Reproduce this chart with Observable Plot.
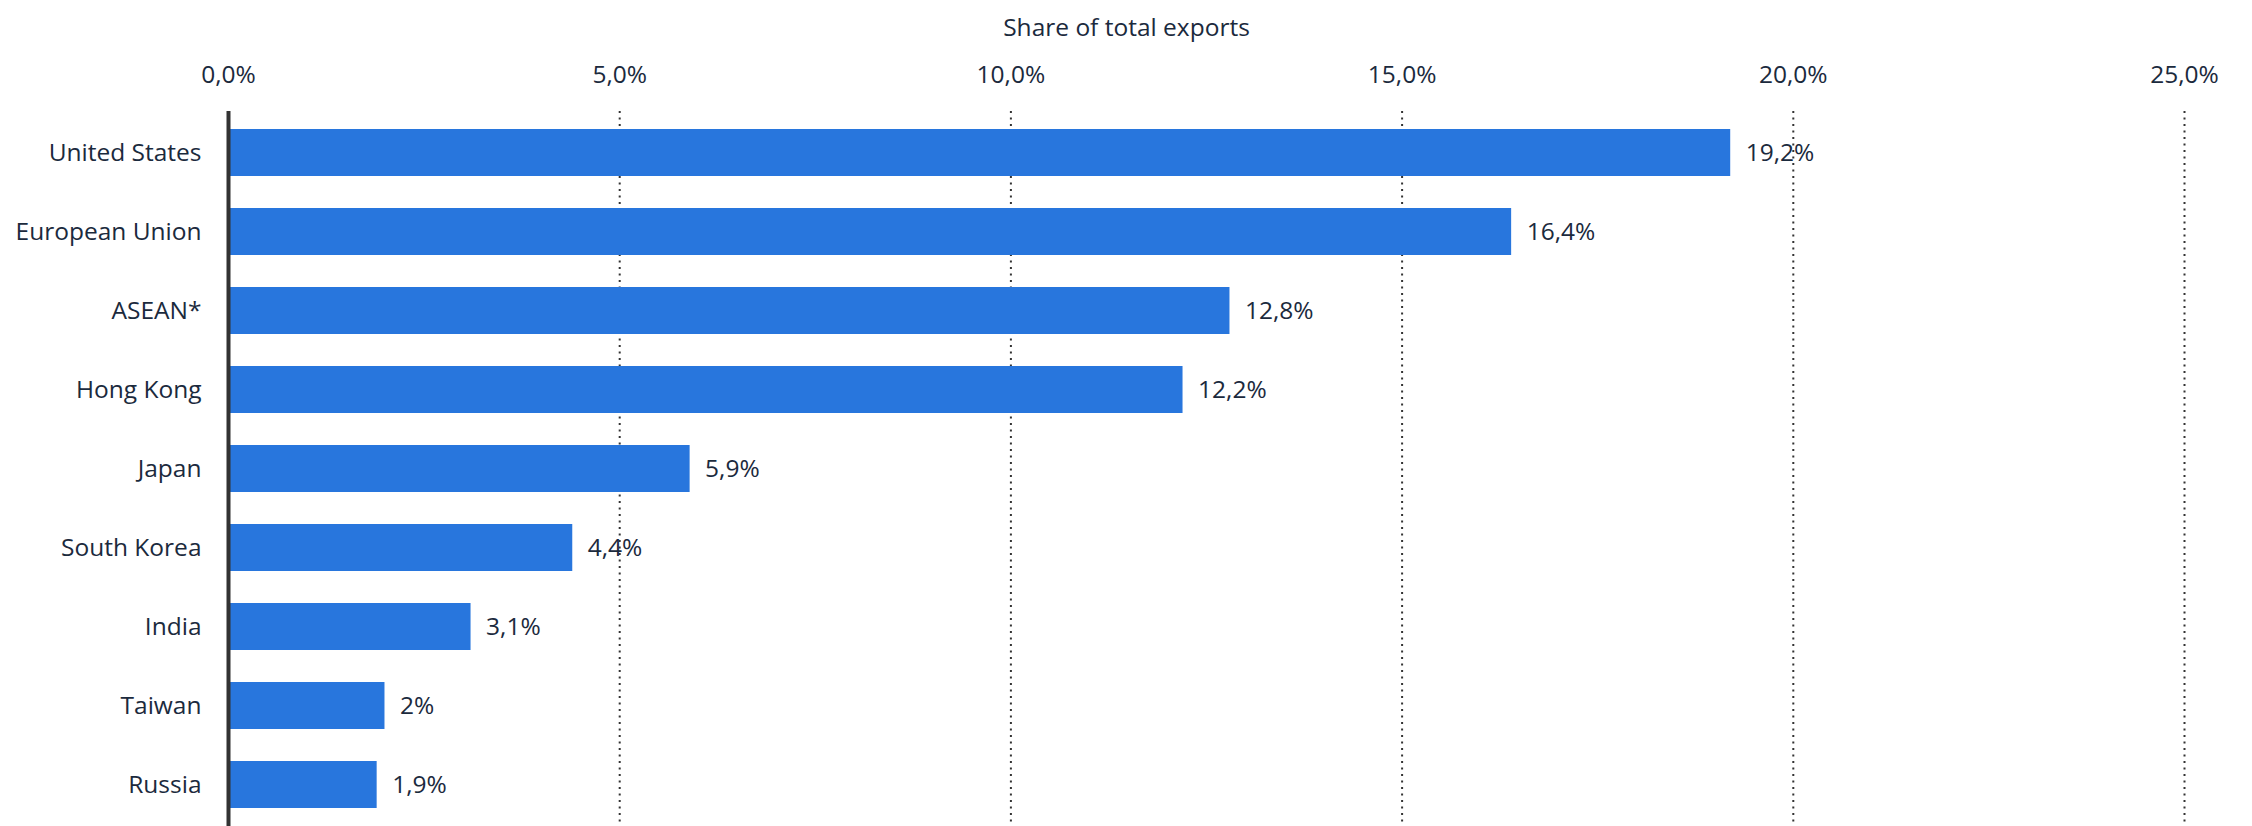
<!DOCTYPE html>
<html>
<head>
<meta charset="utf-8">
<script src="https://cdn.jsdelivr.net/npm/d3@7"></script>
<script src="https://cdn.jsdelivr.net/npm/@observablehq/plot@0.6"></script>
<style>
  html, body { margin: 0; padding: 0; background: #fff; }
  #chart svg { display: block; }
</style>
</head>
<body>
<div id="chart"></div>
<script>
const countries = ["United States", "European Union", "ASEAN*", "Hong Kong", "Japan", "South Korea", "India", "Taiwan", "Russia"];
const shares = [19.2, 16.4, 12.8, 12.2, 5.9, 4.4, 3.1, 2, 1.9];
const xTicks = [0, 5, 10, 15, 20, 25];
const gridTicks = [5, 10, 15, 20, 25];
const axisTitle = "Share of total exports";

const data = countries.map((c, i) => ({country: c, share: shares[i]}));
const fmtTick = v => v.toFixed(1).replace(".", ",") + "%";
const fmtVal = v => String(v).replace(".", ",") + "%";
const textColor = "#1b2a3d";
const font = "'Open Sans', 'Noto Sans', sans-serif";

const chart = Plot.plot({
  width: 2252,
  height: 826,
  marginTop: 111,
  marginBottom: 0,
  marginLeft: 228,
  marginRight: 68,
  style: {fontFamily: font, fontSize: "24.5px", color: textColor, background: "#fff"},
  x: {domain: [0, 25], ticks: xTicks, tickFormat: fmtTick, axis: "top", tickSize: 0, tickPadding: 29, label: null},
  y: {domain: countries, paddingInner: 0.41, paddingOuter: 0.2, tickSize: 0, tickPadding: 27, label: null},
  marks: [
    Plot.ruleX(gridTicks, {stroke: "#333", strokeWidth: 2, strokeDasharray: "2,4.5"}),
    Plot.barX(data, {x: "share", y: "country", fill: "#2876dd"}),
    Plot.ruleX([0], {stroke: "#333", strokeWidth: 4}),
    Plot.text(data, {x: "share", y: "country", text: d => fmtVal(d.share), textAnchor: "start", dx: 15, fill: textColor, fontSize: 24.5}),
    Plot.text([axisTitle], {frameAnchor: "top", dx: -80, dy: -93, fill: textColor, fontSize: 24.5})
  ]
});
document.getElementById("chart").appendChild(chart);
</script>
</body>
</html>
